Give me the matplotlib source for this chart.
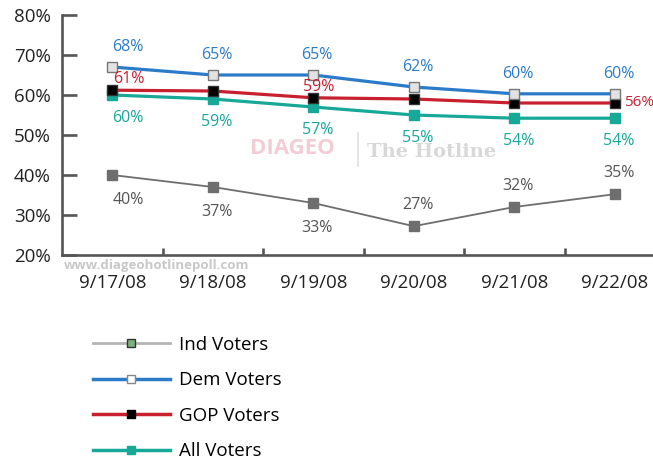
import numpy as np
import matplotlib.pyplot as plt
from matplotlib.lines import Line2D

plt.rcParams['font.family'] = ['Open Sans', 'DejaVu Sans']

# data
dates = ["9/17/08", "9/18/08", "9/19/08", "9/20/08", "9/21/08", "9/22/08"]
ind_voters = [40, 37, 33, 27.2, 32, 35.2]
dem_voters = [67, 65, 65, 62, 60.3, 60.3]
gop_voters = [61.2, 61, 59.3, 59, 58, 58]
all_voters = [60, 59, 57, 55, 54.2, 54.2]

# labels printed on the chart (not always equal to the plotted point)
ind_labels = ["40%", "37%", "33%", "27%", "32%", "35%"]
dem_labels = ["68%", "65%", "65%", "62%", "60%", "60%"]
gop_labels = ["61%", "", "59%", "", "", "56%"]
all_labels = ["60%", "59%", "57%", "55%", "54%", "54%"]

yticks = [20, 30, 40, 50, 60, 70, 80]

c_dem = "#2b7bc9"
c_gop = "#c8202f"
c_all = "#17a898"
c_ind = "#6e6e6e"
c_axis = "#555555"

W, H = 653, 462
fig = plt.figure(figsize=(W / 100, H / 100), dpi=100)
ax = fig.add_axes([62 / W, 1 - 255 / H, 1 - 62 / W, 240 / H])

x = np.arange(len(dates))

# watermark behind the lines
fig.text(292 / W, 1 - 149 / H, "DIAGEO", color="#f2cdd6", fontsize=16,
         fontweight="bold", ha="center", va="center")
fig.add_artist(Line2D([358 / W, 358 / W], [1 - 133 / H, 1 - 166 / H],
                      color="#e0e0e0", lw=1.2))
fig.text(432 / W, 1 - 152 / H, "The Hotline", color="#d8d8d8", fontsize=14,
         family="DejaVu Serif", fontweight="bold", ha="center", va="center")
fig.text(64 / W, 1 - 266 / H, "www.diageohotlinepoll.com", color="#c8c8c8",
         fontsize=9.5, fontweight="bold", ha="left", va="center")

ms = 6.5
ax.plot(x, ind_voters, color=c_ind, lw=1.3, marker="s", ms=ms,
        mfc=c_ind, mec=c_ind, zorder=3)
ax.plot(x, all_voters, color=c_all, lw=2.3, marker="s", ms=ms,
        mfc=c_all, mec=c_all, zorder=4)
ax.plot(x, gop_voters, color=c_gop, lw=2.3, marker="s", ms=ms,
        mfc="black", mec="#333333", zorder=5)
ax.plot(x, dem_voters, color=c_dem, lw=2.3, marker="s", ms=ms,
        mfc="#e2e2e2", mec="#777777", zorder=6)


def put_labels(vals, labels, color, dy):
    for i, (v, lab) in enumerate(zip(vals, labels)):
        if not lab:
            continue
        dx = 16 if i == 0 else 4
        oy = dy(i) if callable(dy) else dy
        ax.annotate(lab, (i, v), xytext=(dx * 0.72, oy * 0.72),
                    textcoords="offset points", ha="center", va="center",
                    color=color, fontsize=11.5, zorder=7)


put_labels(dem_voters, dem_labels, c_dem, 20)
put_labels(all_voters, all_labels, c_all, -23)
put_labels(ind_voters, ind_labels, "#555555", lambda i: -25 if i < 3 else 21)

# GOP labels sit differently: above-right, last one to the right
for i, (v, lab) in enumerate(zip(gop_voters, gop_labels)):
    if not lab:
        continue
    if i == len(dates) - 1:
        ax.annotate(lab, (i, v), xytext=(7, 0), textcoords="offset points",
                    ha="left", va="center", color=c_gop, fontsize=11,
                    zorder=7)
    else:
        dx = 17 if i == 0 else 5
        ax.annotate(lab, (i, v), xytext=(dx * 0.72, 11 * 0.72),
                    textcoords="offset points", ha="center", va="center",
                    color=c_gop, fontsize=11.5, zorder=7)

ax.set_xlim(-0.5, 5.38)
ax.set_ylim(20, 80)
ax.set_yticks(yticks)
ax.set_yticklabels([f"{t}%" for t in yticks])
ax.set_xticks(x)
ax.set_xticklabels(dates)
ax.set_xticks(x[:-1] + 0.5, minor=True)

for side in ["top", "right"]:
    ax.spines[side].set_visible(False)
for side in ["left", "bottom"]:
    ax.spines[side].set_color(c_axis)
    ax.spines[side].set_linewidth(1.9)
ax.patch.set_alpha(0)

ax.tick_params(axis="y", direction="in", length=11, width=1.9,
               color=c_axis, pad=8, labelsize=13.5, labelcolor="#222222")
ax.tick_params(axis="x", which="major", length=0, pad=14,
               labelsize=13.5, labelcolor="#222222")
ax.tick_params(axis="x", which="minor", direction="in", length=5,
               width=1.9, color=c_axis)

handles = [
    Line2D([], [], color="#b5b5b5", lw=2, marker="s", ms=5.5,
           mfc="#7cb27c", mec="#333333"),
    Line2D([], [], color=c_dem, lw=2.5, marker="s", ms=5.5,
           mfc="white", mec="#888888"),
    Line2D([], [], color=c_gop, lw=2.5, marker="s", ms=5.5,
           mfc="black", mec="black"),
    Line2D([], [], color=c_all, lw=2.5, marker="s", ms=5.5,
           mfc=c_all, mec=c_all),
]
fig.legend(handles, ["Ind Voters", "Dem Voters", "GOP Voters", "All Voters"],
           loc="upper left", bbox_to_anchor=(76 / W, 1 - 319 / H),
           frameon=False, fontsize=13.5, handlelength=4.1,
           handletextpad=0.5, labelspacing=0.93)

fig.savefig("out.png", dpi=100)
